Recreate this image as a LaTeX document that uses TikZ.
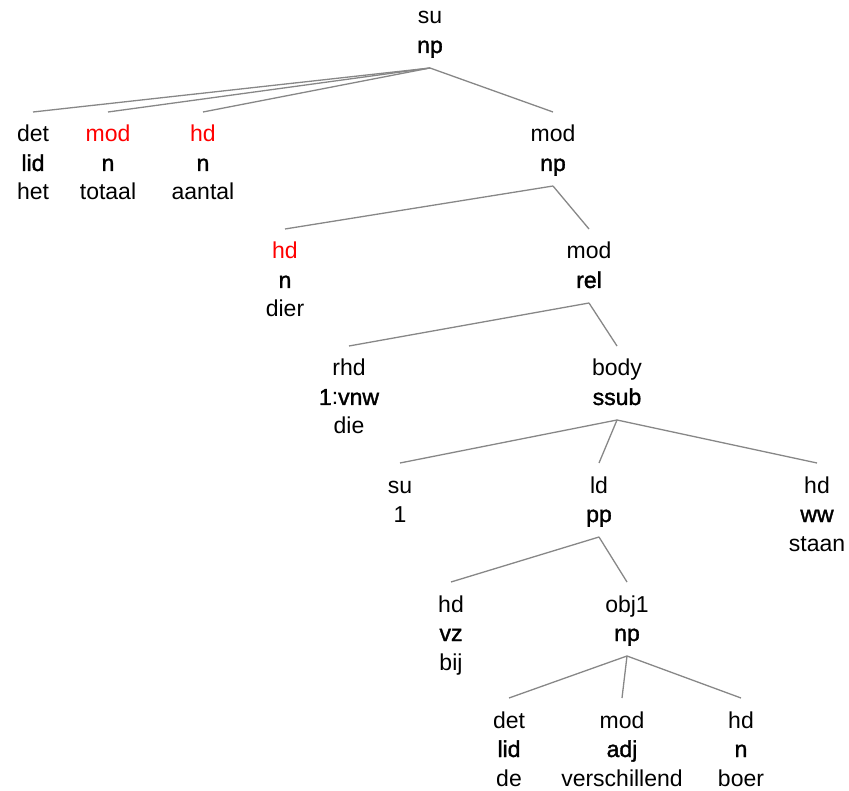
\documentclass[tikz,border=0pt]{standalone}
\usepackage{fontspec}
\setmainfont{Liberation Sans}
\newfontfamily\catfont[FakeBold=1.5]{Liberation Sans}
\definecolor{relred}{RGB}{255,0,0}
\definecolor{edgegray}{RGB}{135,135,135}
\newcommand\topstrut{\rule{0pt}{30pt}}
\newcommand\botstrut{\rule[-15pt]{0pt}{15pt}}
\newcommand\pn[2]{\topstrut #1\\{\catfont #2}\botstrut}
\newcommand\lf[3]{\topstrut #1\\{\catfont #2}\\#3}
\begin{document}
\begin{tikzpicture}[x=1pt,y=-1pt,
  tn/.style={inner sep=0pt, outer sep=0pt, align=center,
    font=\fontsize{23}{29}\selectfont, anchor=north},
  edge/.style={draw=edgegray, line width=1.3pt}]
\useasboundingbox (0,0) rectangle (849,791);
% level 0
\node[tn] (r) at (430,-6) {\pn{su}{np}};
% level 1
\node[tn] (a1) at (33,112) {\lf{det}{lid}{het}};
\node[tn] (a2) at (108,112) {\lf{\textcolor{relred}{mod}}{n}{totaal}};
\node[tn] (a3) at (203,112) {\lf{\textcolor{relred}{hd}}{n}{aantal}};
\node[tn] (a4) at (553,112) {\pn{mod}{np}};
% level 2
\node[tn] (b1) at (285,229) {\lf{\textcolor{relred}{hd}}{n}{dier}};
\node[tn] (b2) at (589,229) {\pn{mod}{rel}};
% level 3
\node[tn] (c1) at (349,346) {\lf{rhd}{1\normalfont:\catfont vnw}{die}};
\node[tn] (c2) at (617,346) {\pn{body}{ssub}};
% level 4
\node[tn] (d1) at (400,463) {\topstrut su\\1\botstrut};
\node[tn] (d2) at (599,463) {\pn{ld}{pp}};
\node[tn] (d3) at (817,463) {\lf{hd}{ww}{staan}};
% level 5
\node[tn] (e1) at (451,582) {\lf{hd}{vz}{bij}};
\node[tn] (e2) at (627,582) {\pn{obj1}{np}};
% level 6
\node[tn] (f1) at (509,698) {\lf{det}{lid}{de}};
\node[tn] (f2) at (622,698) {\lf{mod}{adj}{verschillend}};
\node[tn] (f3) at (741,698) {\lf{hd}{n}{boer}};
% edges
\foreach \p/\c in {r/a1,r/a2,r/a3,r/a4,a4/b1,a4/b2,b2/c1,b2/c2,c2/d1,c2/d2,c2/d3,d2/e1,d2/e2,e2/f1,e2/f2,e2/f3}
  \draw[edge] (\p.south) -- (\c.north);
\end{tikzpicture}
\end{document}
